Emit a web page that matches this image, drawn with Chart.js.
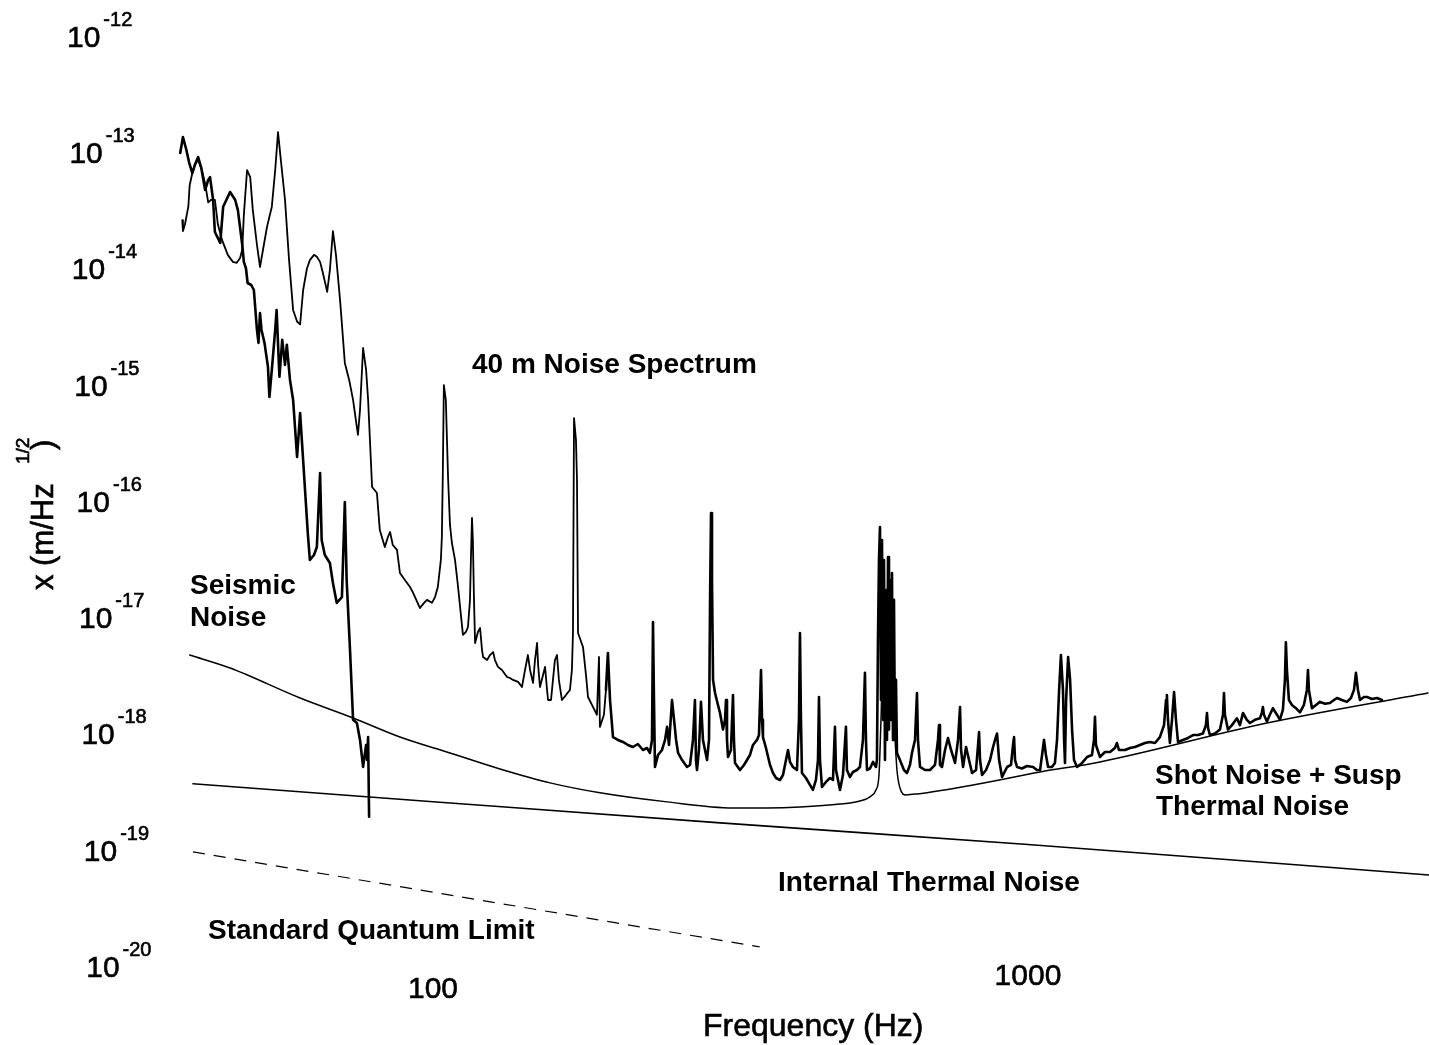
<!DOCTYPE html>
<html lang="en">
<head>
    <meta charset="UTF-8">
    <title>40 m Noise Spectrum</title>
    <script src="https://cdn.jsdelivr.net/npm/chart.js"></script>
    <style>
        html, body { margin: 0; padding: 0; background: #fff; }
        #wrap { width: 1429px; height: 1045px; }
    </style>
</head>
<body>
    <div id="wrap">
        <canvas id="noiseChart" width="1429" height="1045"></canvas>
    </div>

    <script>
        // Measured displacement spectrum of the 40 m interferometer (Hz, m/rtHz)
        const noiseFreq = [
            37.9, 38.0, 38.3, 38.8, 39.0, 39.4, 39.8, 40.3, 40.8, 41.4, 41.9, 42.4,
            43.0, 43.5, 44.2, 45.2, 46.1, 46.8, 47.4, 47.8, 48.1, 48.7, 49.3, 49.8,
            50.6, 51.2, 51.8, 52.6, 53.6, 54.3, 54.9, 55.5, 56.4, 57.3, 58.2, 59.1,
            59.8, 60.5, 61.4, 62.1, 63.1, 63.8, 64.6, 65.3, 66.4, 67.1, 67.9, 68.7,
            69.8, 71.1, 72.3, 73.4, 74.2, 74.8, 75.4, 76.3, 77.2, 77.8, 79.0, 80.5,
            81.4, 83.0, 84.0, 84.7, 85.6, 87.0, 88.0, 89.7, 91.5, 92.6, 95.1, 96.6,
            97.7, 99.6, 100.8, 101.9, 103.1, 103.5, 103.9, 104.3, 105.1, 106.0, 106.8, 107.6,
            108.9, 110.2, 111.4, 112.3, 113.6, 114.5, 115.4, 115.8, 116.3, 116.7, 117.2, 117.7,
            119.0, 120.0, 120.9, 121.4, 123.3, 124.7, 126.2, 127.1, 128.6, 130.6, 133.2, 134.7,
            136.3, 139.0, 141.1, 142.8, 144.4, 145.6, 147.3, 148.4, 149.6, 150.2, 151.3, 153.1,
            154.3, 155.5, 156.1, 157.9, 159.1, 160.3, 161.6, 162.8, 164.7, 167.3, 169.9, 171.2,
            171.9, 172.6, 173.9, 174.6, 175.3, 178.7, 180.8, 182.2, 185.0, 188.6, 190.1, 190.8,
            193.8, 195.3, 196.8, 198.4, 200.7, 204.6, 208.6, 212.6, 216.8, 221.0, 225.4, 228.9,
            231.5, 233.4, 234.3, 235.2, 236.1, 238.9, 242.6, 245.5, 247.4, 249.3, 252.2, 254.2,
            256.2, 258.2, 262.2, 267.3, 270.4, 273.5, 275.6, 276.7, 277.8, 279.9, 282.1, 284.3,
            288.8, 291.0, 292.2, 293.3, 294.4, 295.6, 297.9, 301.3, 303.7, 307.2, 309.6, 310.8,
            312.0, 313.2, 316.8, 319.3, 320.5, 321.8, 328.1, 333.2, 337.1, 341.0, 345.0, 350.4,
            353.1, 355.9, 357.3, 358.6, 362.8, 368.5, 372.8, 377.2, 383.0, 387.5, 392.0, 395.1,
            398.1, 402.7, 409.0, 412.2, 413.8, 415.4, 417.0, 423.5, 430.1, 435.1, 440.2, 443.7,
            445.4, 447.1, 450.6, 457.6, 464.8, 470.2, 473.8, 475.7, 483.1, 488.7, 494.4, 496.3,
            502.0, 507.9, 515.8, 521.9, 528.0, 532.1, 534.2, 536.3, 542.6, 548.9, 555.3, 557.4,
            559.6, 561.8, 564.0, 566.2, 568.4, 570.6, 572.8, 575.0, 577.3, 579.5, 581.8, 584.0,
            586.3, 588.6, 590.8, 593.1, 595.4, 597.6, 600.0, 602.3, 609.3, 618.8, 626.0, 633.4,
            638.3, 645.8, 650.8, 653.3, 658.5, 671.3, 684.4, 697.8, 705.9, 708.7, 711.4, 717.0,
            725.4, 733.9, 742.5, 754.1, 762.9, 768.8, 771.8, 777.8, 786.9, 796.0, 805.4, 817.9,
            824.3, 827.5, 830.7, 837.2, 850.2, 863.5, 873.6, 880.4, 887.2, 894.2, 904.6, 922.3,
            936.5, 943.8, 947.5, 951.2, 958.5, 977.1, 996.2, 1020, 1035, 1048, 1056, 1064,
            1072, 1081, 1097, 1110, 1119, 1128, 1136, 1145, 1150, 1154, 1159, 1168,
            1177, 1186, 1195, 1209, 1233, 1257, 1281, 1291, 1296, 1301, 1321, 1347,
            1374, 1400, 1411, 1422, 1456, 1484, 1513, 1542, 1573, 1603, 1635, 1666,
            1693, 1706, 1712, 1719, 1732, 1746, 1760, 1773, 1787, 1822, 1858, 1894,
            1931, 1968, 1991, 1999, 2007, 2022, 2062, 2102, 2127, 2135, 2143, 2168,
            2202, 2245, 2271, 2298, 2333, 2361, 2407, 2454, 2473, 2482, 2492, 2521,
            2550, 2580, 2621, 2651, 2682, 2703, 2713, 2724, 2745, 2777, 2821, 2865,
            2909, 2943, 2955, 2966, 3001, 3048, 3095, 3156, 3217, 3268, 3306, 3370,
            3436, 3490, 3531, 3558, 3586, 3614, 3670, 3713, 3786, 3860, 3935
        ];
        const noiseAmp = [
            2.6e-14, 2.1e-14, 2.4e-14, 3.4e-14, 5.2e-14, 6.6e-14, 7.8e-14, 8.6e-14, 7.3e-14, 5.4e-14, 3.7e-14, 3.9e-14,
            3.9e-14, 2.4e-14, 1.76e-14, 1.31e-14, 1.14e-14, 1.12e-14, 1.23e-14, 1.45e-14, 2.89e-14, 7.03e-14, 6.1e-14, 3.18e-14,
            1.6e-14, 1.03e-14, 1.45e-14, 2.27e-14, 3.4e-14, 7.0e-14, 1.49e-13, 8.6e-14, 3.9e-14, 1.18e-14, 4.4e-15, 3.5e-15,
            3.3e-15, 6.5e-15, 1.0e-14, 1.18e-14, 1.31e-14, 1.26e-14, 1.14e-14, 9.2e-15, 6.3e-15, 9.7e-15, 2.1e-14, 1.31e-14,
            5.35e-15, 1.54e-15, 1.10e-15, 7.4e-16, 4.97e-16, 3.70e-16, 6.06e-16, 2.07e-15, 1.34e-15, 7.4e-16, 1.32e-16, 1.17e-16,
            5.63e-17, 4.02e-17, 4.9e-17, 5.41e-17, 4.18e-17, 3.8e-17, 2.4e-17, 2.09e-17, 1.82e-17, 1.62e-17, 1.2e-17, 1.33e-17,
            1.41e-17, 1.33e-17, 1.49e-17, 1.82e-17, 3.11e-17, 4.9e-17, 1.85e-16, 9.9e-16, 7.4e-16, 1.61e-16, 6.22e-17, 4.35e-17,
            3.11e-17, 1.82e-17, 1.05e-17, 7.04e-18, 7.47e-18, 8.24e-18, 1.41e-17, 3.11e-17, 7.14e-17, 4.62e-17, 1.41e-17, 6.0e-18,
            7.47e-18, 8.08e-18, 5.22e-18, 4.55e-18, 4.28e-18, 4.73e-18, 5.02e-18, 4.28e-18, 3.74e-18, 3.52e-18, 3.06e-18, 3.0e-18,
            2.89e-18, 2.78e-18, 2.51e-18, 3.52e-18, 4.73e-18, 3.52e-18, 2.72e-18, 4.28e-18, 6.0e-18, 3.89e-18, 2.51e-18, 3.18e-18,
            3.74e-18, 2.37e-18, 1.94e-18, 1.94e-18, 2.89e-18, 4.28e-18, 4.73e-18, 2.89e-18, 1.94e-18, 2.14e-18, 2.37e-18, 3.52e-18,
            7.32e-18, 5.17e-16, 3.36e-16, 1.52e-16, 7.32e-18, 5.55e-18, 3.18e-18, 2.06e-18, 1.76e-18, 1.45e-18, 4.55e-18, 1.14e-18,
            1.45e-18, 2.37e-18, 4.93e-18, 1.94e-18, 9.3e-19, 8.8e-19, 8.45e-19, 7.96e-19, 7.65e-19, 8.12e-19, 7.21e-19, 7.5e-19,
            6.8e-19, 8.8e-19, 9.1e-18, 1.94e-18, 5.15e-19, 6.53e-19, 7.21e-19, 8.8e-19, 1.14e-18, 7.96e-19, 1.94e-18, 1.31e-18,
            8.8e-19, 6.8e-19, 5.91e-19, 5.15e-19, 5.36e-19, 8.8e-19, 1.94e-18, 5.91e-19, 4.85e-19, 7.21e-19, 1.87e-18, 8.8e-19,
            5.91e-19, 8.8e-19, 1.41e-17, 7.88e-17, 2.09e-17, 2.89e-18, 2.23e-18, 1.76e-18, 1.5e-18, 1.08e-18, 1.31e-18, 1.94e-18,
            8.8e-19, 6.28e-19, 7.21e-19, 2.14e-18, 8.8e-19, 5.58e-19, 4.85e-19, 5.36e-19, 5.91e-19, 6.53e-19, 7.96e-19, 8.8e-19,
            9.7e-19, 3.52e-18, 1.31e-18, 9.3e-19, 7.5e-19, 5.36e-19, 4.57e-19, 4.14e-19, 3.98e-19, 4.39e-19, 5.91e-19, 7.21e-19,
            5.69e-19, 5.15e-19, 4.85e-19, 1.31e-18, 7.32e-18, 1.31e-18, 4.57e-19, 4.14e-19, 3.61e-19, 3.27e-19, 3.98e-19, 5.91e-19,
            2.06e-18, 5.91e-19, 3.46e-19, 3.83e-19, 4.14e-19, 3.98e-19, 1.14e-18, 4.85e-19, 3.27e-19, 4.39e-19, 1.14e-18, 4.85e-19,
            4.22e-19, 4.66e-19, 4.85e-19, 5.15e-19, 8.8e-19, 3.32e-18, 8.8e-19, 4.85e-19, 5.0e-19, 5.69e-19, 5.15e-19, 5.91e-19,
            6.37e-18, 3.11e-17, 5.97e-17, 1.94e-18, 4.62e-17, 1.31e-18, 3.11e-17, 5.91e-19, 1.71e-17, 8.8e-19, 3.3e-17, 1.08e-18,
            2.09e-17, 1.31e-18, 2.4e-17, 8.8e-19, 1.41e-17, 8.8e-19, 2.89e-18, 6.8e-19, 5.91e-19, 4.85e-19, 4.57e-19, 5.36e-19,
            6.8e-19, 8.8e-19, 2.23e-18, 8.8e-19, 5.15e-19, 4.85e-19, 4.85e-19, 5.36e-19, 8.8e-19, 1.18e-18, 5.36e-19, 5.15e-19,
            7.21e-19, 9.15e-19, 7.21e-19, 5.58e-19, 8.8e-19, 1.69e-18, 7.21e-19, 5.15e-19, 7.65e-19, 5.91e-19, 4.57e-19, 4.85e-19,
            7.96e-19, 1.03e-18, 5.91e-19, 4.39e-19, 4.85e-19, 5.91e-19, 7.65e-19, 8.8e-19, 1.0e-18, 5.91e-19, 4.22e-19, 5.15e-19,
            5.36e-19, 7.96e-19, 9.3e-19, 5.91e-19, 5.15e-19, 5.0e-19, 5.25e-19, 5.15e-19, 4.85e-19, 4.85e-19, 6.53e-19, 8.8e-19,
            6.53e-19, 5.15e-19, 5.15e-19, 5.58e-19, 8.8e-19, 2.37e-18, 4.73e-18, 2.37e-18, 8.8e-19, 5.58e-19, 1.94e-18, 4.55e-18,
            2.89e-18, 1.08e-18, 5.91e-19, 5.15e-19, 5.58e-19, 6.28e-19, 6.53e-19, 8.8e-19, 1.39e-18, 7.96e-19, 6.28e-19, 6.93e-19,
            6.93e-19, 7.5e-19, 8.28e-19, 7.21e-19, 7.21e-19, 7.5e-19, 7.65e-19, 7.96e-19, 8.28e-19, 8.45e-19, 8.28e-19, 9.3e-19,
            1.18e-18, 1.94e-18, 2.14e-18, 1.31e-18, 8.28e-19, 1.31e-18, 2.27e-18, 1.31e-18, 8.45e-19, 8.8e-19, 9.15e-19, 9.7e-19,
            9.7e-19, 1.0e-18, 1.18e-18, 1.5e-18, 1.12e-18, 9.7e-19, 1.0e-18, 1.08e-18, 1.45e-18, 2.23e-18, 1.45e-18, 1.08e-18,
            1.18e-18, 1.35e-18, 1.18e-18, 1.5e-18, 1.31e-18, 1.23e-18, 1.31e-18, 1.35e-18, 1.52e-18, 1.69e-18, 1.45e-18, 1.27e-18,
            1.45e-18, 1.65e-18, 1.45e-18, 1.31e-18, 1.6e-18, 2.89e-18, 6.1e-18, 3.52e-18, 1.94e-18, 1.76e-18, 1.65e-18, 1.52e-18,
            1.76e-18, 2.37e-18, 3.52e-18, 2.37e-18, 1.65e-18, 1.76e-18, 1.87e-18, 1.8e-18, 1.83e-18, 1.94e-18, 2.02e-18, 1.94e-18,
            1.87e-18, 2.02e-18, 2.37e-18, 3.32e-18, 2.37e-18, 1.94e-18, 2.06e-18, 2.06e-18, 1.98e-18, 2.02e-18, 1.94e-18
        ];

        // Seismic noise contribution (measured, falls off steeply above ~70 Hz)
        const seismicFreq = [
            37.6, 38.0, 38.5, 38.9, 39.4, 39.8, 40.3, 40.8, 41.4, 41.9, 42.2, 42.7,
            43.0, 43.9, 44.4, 45.6, 46.5, 47.0, 47.8, 48.1, 48.5, 48.8, 49.5, 50.0,
            50.6, 50.9, 51.2, 51.5, 52.1, 52.8, 53.1, 53.6, 54.3, 54.6, 55.2, 55.8,
            56.4, 56.8, 57.5, 58.2, 59.1, 59.8, 60.5, 61.6, 62.1, 63.1, 63.8, 64.6,
            65.0, 65.8, 67.1, 67.9, 68.9, 70.3, 71.1, 71.6, 72.5, 73.4, 74.5, 75.4,
            76.3, 77.2, 77.5, 77.8, 78.1
        ];
        const seismicAmp = [
            9.85e-14, 1.35e-13, 1.05e-13, 8.24e-14, 6.6e-14, 7.8e-14, 9.1e-14, 7.3e-14, 4.73e-14, 5.77e-14, 6.1e-14, 3.9e-14,
            2.06e-14, 1.66e-14, 3.4e-14, 4.55e-14, 3.9e-14, 3.18e-14, 1.6e-14, 1.14e-14, 1.0e-14, 7.5e-15, 7.21e-15, 6.53e-15,
            2.96e-15, 2.29e-15, 4.14e-15, 2.96e-15, 2.29e-15, 1.43e-15, 7.84e-16, 1.34e-15, 2.96e-15, 4.4e-15, 1.17e-15, 2.43e-15,
            1.48e-15, 2.21e-15, 1.1e-15, 7.4e-16, 2.39e-16, 5.7e-16, 2.25e-16, 5.3e-17, 3.11e-17, 3.43e-17, 4.02e-17, 1.74e-16,
            4.62e-17, 3.43e-17, 2.93e-17, 1.97e-17, 1.33e-17, 1.49e-17, 9.8e-17, 2.09e-17, 5.55e-18, 1.31e-18, 1.23e-18, 8.8e-19,
            5.15e-19, 7.96e-19, 5.91e-19, 9.3e-19, 1.92e-19
        ];

        // Shot noise + suspension thermal noise model (with violin resonance)
        const shotSuspFreq = [
            39.0, 45.6, 59.8, 73.4, 88.0, 106.8, 129.6, 157.3, 190.8, 247.4, 319.3, 364.2,
            413.8, 483.1, 521.9, 542.6, 555.3, 561.8, 566.2, 572.8, 584.0, 595.4, 602.3, 609.3,
            623.7, 650.8, 808.5, 1048, 1321, 2521, 4702
        ];
        const shotSuspAmp = [
            4.73e-18, 3.66e-18, 2.02e-18, 1.36e-18, 9.33e-19, 6.8e-19, 4.95e-19, 3.76e-19, 3.09e-19, 2.58e-19, 2.29e-19, 2.29e-19,
            2.33e-19, 2.47e-19, 2.63e-19, 2.85e-19, 3.27e-19, 4.39e-19, 1.31e-18, 9.47e-18, 6.37e-18, 1.31e-18, 4.85e-19, 3.4e-19,
            2.96e-19, 3.02e-19, 3.61e-19, 4.66e-19, 5.69e-19, 1.23e-18, 2.23e-18
        ];

        // Internal (test mass) thermal noise
        const internalFreq = [39.5, 100, 300, 1000, 4720];
        const internalAmp = [3.69e-19, 2.59e-19, 1.71e-19, 1.11e-19, 6.06e-20];

        // Standard quantum limit
        const sqlFreq = [39.5, 100, 200, 354];
        const sqlAmp = [9.57e-20, 4.31e-20, 2.38e-20, 1.46e-20];

        // Axis ticks
        const yTickExponents = [-12, -13, -14, -15, -16, -17, -18, -19, -20];
        const xTickValues = [100, 1000];

        const FONT = '"Liberation Sans", Arial, Helvetica, sans-serif';

        function toPoints(fs, vs) {
            return fs.map((f, i) => ({ x: f, y: vs[i] }));
        }

        // text layout for labels drawn on top of the plot
        const curveLabels = [
            { text: '40 m Noise Spectrum', x: 472, y: 373 },
            { text: 'Seismic', x: 190, y: 594 },
            { text: 'Noise', x: 190, y: 626 },
            { text: 'Shot Noise + Susp', x: 1155, y: 784 },
            { text: 'Thermal Noise', x: 1156, y: 815 },
            { text: 'Internal Thermal Noise', x: 778, y: 891 },
            { text: 'Standard Quantum Limit', x: 208, y: 939 }
        ];
        const xTickBaselines = [998, 985];

        // regular text with a faint outline so it prints as heavy as the bold labels
        function heavyText(ctx, s, x, y) {
            ctx.fillText(s, x, y);
            ctx.strokeText(s, x, y);
        }

        const figureText = {
            id: 'figureText',
            afterDraw(chart) {
                const ctx = chart.ctx;
                const xs = chart.scales.x;
                const ys = chart.scales.y;
                ctx.save();
                ctx.fillStyle = '#000';
                ctx.strokeStyle = '#000';
                ctx.lineWidth = 0.6;
                ctx.textBaseline = 'alphabetic';
                ctx.textAlign = 'left';

                // y ticks as 10^n
                yTickExponents.forEach((p, i) => {
                    const py = ys.getPixelForValue(Number('1e' + p));
                    const left = 67 + i * 2.4;
                    ctx.font = '30px ' + FONT;
                    heavyText(ctx, '10', left, py + 11);
                    const w = ctx.measureText('10').width;
                    ctx.font = '20px ' + FONT;
                    heavyText(ctx, String(p), left + w + 3, py - 10);
                });

                // x ticks
                ctx.textAlign = 'center';
                ctx.font = '30px ' + FONT;
                xTickValues.forEach((v, i) => {
                    heavyText(ctx, String(v), xs.getPixelForValue(v), xTickBaselines[i]);
                });

                // axis titles
                ctx.textAlign = 'left';
                ctx.font = '32px ' + FONT;
                heavyText(ctx, 'Frequency (Hz)', 703, 1036);

                ctx.save();
                ctx.translate(53, 590);
                ctx.rotate(-Math.PI / 2);
                ctx.font = '31px ' + FONT;
                heavyText(ctx, 'x (m/Hz', 0, 0);
                heavyText(ctx, ')', 140, 0);
                ctx.font = '19px ' + FONT;
                heavyText(ctx, '1/2', 126, -24);
                ctx.restore();

                // curve labels
                ctx.font = 'bold 28px ' + FONT;
                curveLabels.forEach(l => ctx.fillText(l.text, l.x, l.y));
                ctx.restore();
            }
        };

        const lineStyle = {
            showLine: true,
            fill: false,
            pointRadius: 0,
            borderColor: '#000',
            borderJoinStyle: 'round',
            borderCapStyle: 'round'
        };

        new Chart(document.getElementById('noiseChart').getContext('2d'), {
            type: 'scatter',
            data: {
                datasets: [
                    {
                        ...lineStyle,
                        label: '40 m Noise Spectrum',
                        data: toPoints(noiseFreq, noiseAmp),
                        borderWidth: 1.8,
                        // the dense flat part of the spectrum prints heavier
                        segment: { borderWidth: c => (c.p0.parsed.x >= 195 ? 2.6 : 1.8) }
                    },
                    { ...lineStyle, label: 'Seismic Noise', data: toPoints(seismicFreq, seismicAmp), borderWidth: 2.6 },
                    { ...lineStyle, label: 'Shot Noise + Susp Thermal Noise', data: toPoints(shotSuspFreq, shotSuspAmp), borderWidth: 1.5, cubicInterpolationMode: 'monotone' },
                    { ...lineStyle, label: 'Internal Thermal Noise', data: toPoints(internalFreq, internalAmp), borderWidth: 1.6, cubicInterpolationMode: 'monotone' },
                    { ...lineStyle, label: 'Standard Quantum Limit', data: toPoints(sqlFreq, sqlAmp), borderWidth: 1.2, borderDash: [12, 9], borderCapStyle: 'butt' }
                ]
            },
            options: {
                responsive: false,
                animation: false,
                layout: { padding: 0 },
                plugins: {
                    legend: { display: false },
                    tooltip: { enabled: false }
                },
                scales: {
                    x: { type: 'logarithmic', min: 18.72, max: 4720.5, display: false },
                    y: { type: 'logarithmic', min: 2.09e-21, max: 2.04e-12, display: false }
                }
            },
            plugins: [figureText]
        });
    </script>
</body>
</html>
